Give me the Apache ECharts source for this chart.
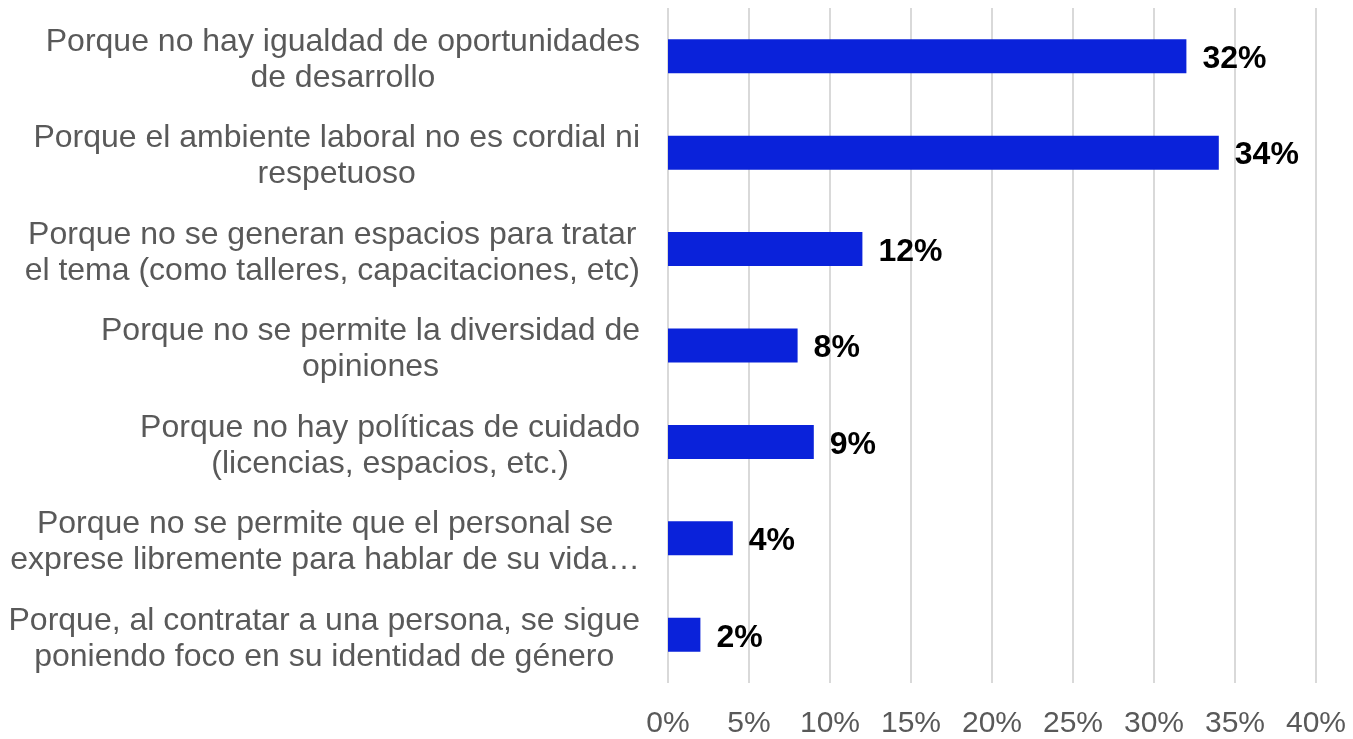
<!DOCTYPE html>
<html>
<head>
<meta charset="utf-8">
<script src="https://cdn.jsdelivr.net/npm/echarts@6/dist/echarts.min.js"></script>
<style>
  html, body { margin: 0; padding: 0; background: #fff; }
  #chart { width: 1353px; height: 739px; }
</style>
</head>
<body>
<div id="chart"></div>
<script>
  // motivos (de arriba hacia abajo)
  var categories = [
    'Porque no hay igualdad de oportunidades\nde desarrollo',
    'Porque el ambiente laboral no es cordial ni\nrespetuoso',
    'Porque no se generan espacios para tratar\nel tema (como talleres, capacitaciones, etc)',
    'Porque no se permite la diversidad de\nopiniones',
    'Porque no hay políticas de cuidado\n(licencias, espacios, etc.)',
    'Porque no se permite que el personal se\nexprese libremente para hablar de su vida…',
    'Porque, al contratar a una persona, se sigue\nponiendo foco en su identidad de género'
  ];
  var values = [32, 34, 12, 8, 9, 4, 2];
  var xTicks = [0, 5, 10, 15, 20, 25, 30, 35, 40];

  var chart = echarts.init(document.getElementById('chart'));
  chart.setOption({
    animation: false,
    textStyle: { fontFamily: 'Liberation Sans, Arial, sans-serif' },
    grid: { left: 668, right: 37, top: 8, bottom: 52, containLabel: false },
    xAxis: {
      type: 'value',
      min: xTicks[0],
      max: xTicks[xTicks.length - 1],
      interval: 5,
      axisLine: { show: false },
      axisTick: { show: false },
      splitLine: { lineStyle: { color: '#d9d9d9', width: 2 } },
      axisLabel: {
        formatter: '{value}%',
        color: '#595959',
        fontSize: 30,
        margin: 26
      }
    },
    yAxis: {
      type: 'category',
      inverse: true,
      data: categories,
      axisLine: { show: false },
      axisTick: { show: false },
      axisLabel: {
        color: '#595959',
        fontSize: 32,
        margin: 28,
        lineHeight: 36,
        padding: [8, 0, 0, 0],
        formatter: function (v) {
          return v.split('\n').map(function (s) { return '{c|' + s + '}'; }).join('\n');
        },
        rich: {
          c: { align: 'center', fontSize: 32, lineHeight: 36, color: '#595959' }
        }
      }
    },
    series: [{
      type: 'bar',
      data: values,
      barWidth: 34,
      itemStyle: { color: '#0A22DA' },
      label: {
        show: true,
        position: 'right',
        distance: 16,
        offset: [0, 3],
        formatter: '{c}%',
        color: '#000',
        fontWeight: 'bold',
        fontSize: 32
      }
    }]
  });
</script>
</body>
</html>
